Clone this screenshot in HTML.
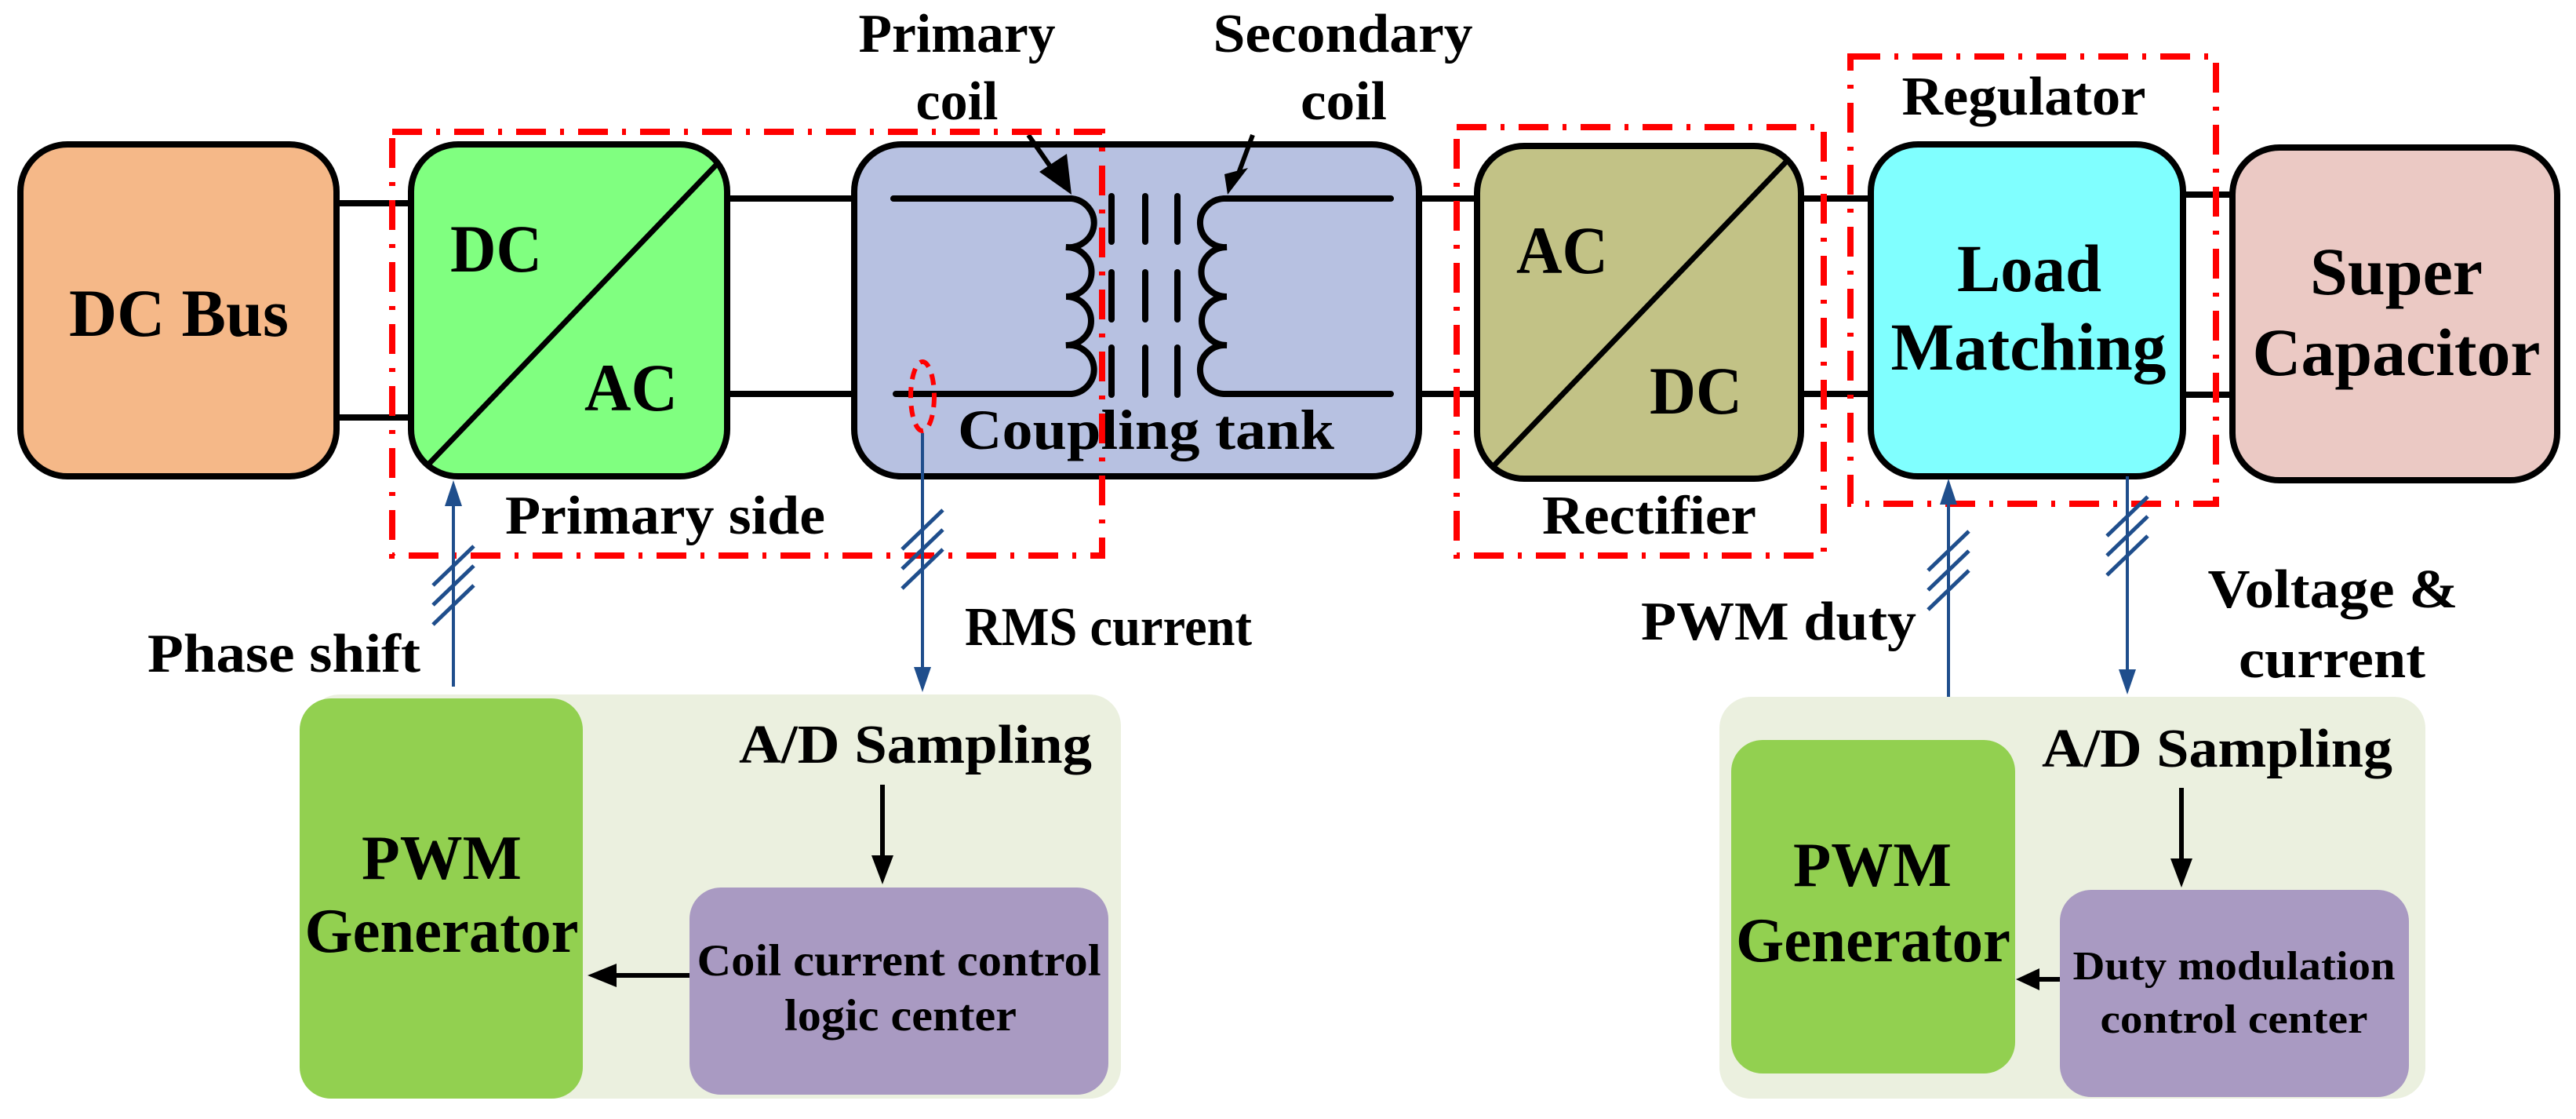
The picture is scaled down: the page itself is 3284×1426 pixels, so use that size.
<!DOCTYPE html>
<html><head><meta charset="utf-8"><style>
html,body{margin:0;padding:0;background:#fff;}
svg{display:block;}
text{font-family:"Liberation Serif","Times New Roman",serif;font-weight:bold;fill:#000;}
</style></head><body>
<svg width="3284" height="1426" viewBox="0 0 3284 1426" xmlns="http://www.w3.org/2000/svg">
<!-- connecting lines -->
<g stroke="#000" stroke-width="8">
<line x1="429" y1="259" x2="524" y2="259"/><line x1="429" y1="532" x2="524" y2="532"/>
<line x1="927" y1="253" x2="1089" y2="253"/><line x1="927" y1="502" x2="1089" y2="502"/>
<line x1="1809" y1="253" x2="1883" y2="253"/><line x1="1809" y1="502" x2="1883" y2="502"/>
<line x1="2296" y1="253" x2="2385" y2="253"/><line x1="2296" y1="502" x2="2385" y2="502"/>
<line x1="2783" y1="248" x2="2846" y2="248"/><line x1="2783" y1="503" x2="2846" y2="503"/>
</g>
<!-- main boxes -->
<g stroke="#000" stroke-width="8">
<rect x="26" y="184" width="403" height="423" rx="60" fill="#F5B888"/>
<rect x="524" y="184" width="403" height="423" rx="60" fill="#80FF80"/>
<rect x="1089" y="184" width="720" height="423" rx="60" fill="#B7C1E1"/>
<rect x="1883" y="186" width="413" height="424" rx="60" fill="#C2C286"/>
<rect x="2385" y="184" width="398" height="423" rx="60" fill="#80FFFF"/>
<rect x="2846" y="188" width="414" height="424" rx="60" fill="#EBC9C4"/>
</g>
<g stroke="#000" stroke-width="7">
<line x1="544" y1="594" x2="916" y2="207"/>
<line x1="1902" y1="596" x2="2281" y2="202"/>
</g>
<!-- transformer -->
<g stroke="#000" stroke-width="8" fill="none" stroke-linecap="round">
<path d="M1139 253 H1366 A32 31 0 0 1 1359 315 A32 31 0 0 1 1359 378 A32 31 0 0 1 1359 440 A32 31 0 0 1 1366 502 H1142"/>
<path d="M1773 253 H1560 A32 31 0 0 0 1564 315 A32 31 0 0 0 1564 378 A32 31 0 0 0 1564 440 A32 31 0 0 0 1560 502 H1773"/>
<line x1="1417" y1="250" x2="1417" y2="308"/><line x1="1417" y1="347" x2="1417" y2="407"/><line x1="1417" y1="443" x2="1417" y2="503"/>
<line x1="1460" y1="250" x2="1460" y2="308"/><line x1="1460" y1="347" x2="1460" y2="407"/><line x1="1460" y1="443" x2="1460" y2="503"/>
<line x1="1501" y1="250" x2="1501" y2="308"/><line x1="1501" y1="347" x2="1501" y2="407"/><line x1="1501" y1="443" x2="1501" y2="503"/>
</g>
<g stroke="#000" stroke-width="6">
<line x1="1311" y1="172" x2="1350" y2="228"/>
<line x1="1597" y1="172" x2="1577" y2="226"/>
</g>
<polygon points="1325,219 1366,248 1360,196" fill="#000"/>
<polygon points="1561,222 1565,248 1591,214" fill="#000"/>
<!-- red dash-dot boxes -->
<g stroke="#FF0000" stroke-width="8" fill="none" stroke-dasharray="38 18 5 18">
<rect x="500" y="168" width="905" height="540"/>
<rect x="1857" y="162" width="468" height="546"/>
<rect x="2359" y="72" width="466" height="570"/>
</g>
<ellipse cx="1176" cy="505" rx="15" ry="44" fill="none" stroke="#FF0000" stroke-width="6" stroke-dasharray="14 10"/>
<!-- blue signal lines -->
<g stroke="#1F4E8C" stroke-width="4" fill="none">
<line x1="578" y1="640" x2="578" y2="875"/>
<line x1="1176" y1="552" x2="1176" y2="850"/>
<line x1="2484" y1="640" x2="2484" y2="888"/>
<line x1="2712" y1="607" x2="2712" y2="855"/>
</g>
<g fill="#1F4E8C">
<polygon points="578,612 567,645 589,645"/>
<polygon points="1176,882 1165,850 1187,850"/>
<polygon points="2484,610 2473,643 2495,643"/>
<polygon points="2712,885 2701,853 2723,853"/>
</g>
<g stroke="#1F4E8C" stroke-width="5">
<line x1="552" y1="746" x2="604" y2="696"/><line x1="552" y1="771" x2="604" y2="721"/><line x1="552" y1="796" x2="604" y2="746"/>
<line x1="1150" y1="700" x2="1202" y2="650"/><line x1="1150" y1="725" x2="1202" y2="675"/><line x1="1150" y1="750" x2="1202" y2="700"/>
<line x1="2458" y1="727" x2="2510" y2="677"/><line x1="2458" y1="752" x2="2510" y2="702"/><line x1="2458" y1="777" x2="2510" y2="727"/>
<line x1="2686" y1="683" x2="2738" y2="633"/><line x1="2686" y1="708" x2="2738" y2="658"/><line x1="2686" y1="733" x2="2738" y2="683"/>
</g>
<!-- control containers -->
<rect x="393" y="885" width="1036" height="515" rx="40" fill="#EBF0DF"/>
<rect x="382" y="890" width="361" height="510" rx="40" fill="#92D050"/>
<rect x="879" y="1131" width="534" height="264" rx="40" fill="#A99AC2"/>
<rect x="2192" y="888" width="900" height="512" rx="40" fill="#EBF0DF"/>
<rect x="2207" y="943" width="362" height="425" rx="40" fill="#92D050"/>
<rect x="2626" y="1134" width="445" height="264" rx="40" fill="#A99AC2"/>
<g stroke="#000" stroke-width="6">
<line x1="1125" y1="1000" x2="1125" y2="1095"/>
<line x1="2781" y1="1004" x2="2781" y2="1098"/>
<line x1="879" y1="1243" x2="780" y2="1243"/>
<line x1="2626" y1="1248" x2="2595" y2="1248"/>
</g>
<g fill="#000">
<polygon points="1125,1127 1111,1090 1139,1090"/>
<polygon points="2781,1131 2767,1094 2795,1094"/>
<polygon points="749,1243 786,1228 786,1258"/>
<polygon points="2570,1248 2600,1234 2600,1262"/>
</g>
<!-- texts -->
<g text-anchor="middle">
<text x="228" y="428" font-size="86" textLength="280" lengthAdjust="spacingAndGlyphs">DC Bus</text>
<text x="1220" y="66" font-size="70" textLength="251" lengthAdjust="spacingAndGlyphs">Primary</text>
<text x="1220" y="152" font-size="70" textLength="105" lengthAdjust="spacingAndGlyphs">coil</text>
<text x="1712" y="66" font-size="70" textLength="331" lengthAdjust="spacingAndGlyphs">Secondary</text>
<text x="1713" y="152" font-size="70" textLength="110" lengthAdjust="spacingAndGlyphs">coil</text>
<text x="2580" y="146" font-size="70" textLength="311" lengthAdjust="spacingAndGlyphs">Regulator</text>
<text x="2587" y="371" font-size="86" textLength="184" lengthAdjust="spacingAndGlyphs">Load</text>
<text x="2586" y="471" font-size="86" textLength="351" lengthAdjust="spacingAndGlyphs">Matching</text>
<text x="3055" y="375" font-size="86" textLength="220" lengthAdjust="spacingAndGlyphs">Super</text>
<text x="3055" y="478" font-size="86" textLength="367" lengthAdjust="spacingAndGlyphs">Capacitor</text>
<text x="563" y="1120" font-size="80" textLength="204" lengthAdjust="spacingAndGlyphs">PWM</text>
<text x="563" y="1213" font-size="80" textLength="349" lengthAdjust="spacingAndGlyphs">Generator</text>
<text x="2387" y="1129" font-size="80" textLength="202" lengthAdjust="spacingAndGlyphs">PWM</text>
<text x="2388" y="1225" font-size="80" textLength="350" lengthAdjust="spacingAndGlyphs">Generator</text>
<text x="1146" y="1243" font-size="57" textLength="515" lengthAdjust="spacingAndGlyphs">Coil current control</text>
<text x="1148" y="1313" font-size="57" textLength="296" lengthAdjust="spacingAndGlyphs">logic center</text>
<text x="2848" y="1248" font-size="52" textLength="411" lengthAdjust="spacingAndGlyphs">Duty modulation</text>
<text x="2848" y="1316" font-size="52" textLength="341" lengthAdjust="spacingAndGlyphs">control center</text>
<text x="2974" y="774" font-size="70" textLength="319" lengthAdjust="spacingAndGlyphs">Voltage &amp;</text>
<text x="2973" y="863" font-size="70" textLength="238" lengthAdjust="spacingAndGlyphs">current</text>
</g>
<text x="574" y="346" font-size="86" textLength="117" lengthAdjust="spacingAndGlyphs">DC</text>
<text x="745" y="523" font-size="86" textLength="119" lengthAdjust="spacingAndGlyphs">AC</text>
<text x="1933" y="348" font-size="86" textLength="117" lengthAdjust="spacingAndGlyphs">AC</text>
<text x="2103" y="527" font-size="86" textLength="118" lengthAdjust="spacingAndGlyphs">DC</text>
<text x="1221" y="572" font-size="72" textLength="480" lengthAdjust="spacingAndGlyphs">Coupling tank</text>
<text x="644" y="680" font-size="70" textLength="408" lengthAdjust="spacingAndGlyphs">Primary side</text>
<text x="1966" y="680" font-size="70" textLength="273" lengthAdjust="spacingAndGlyphs">Rectifier</text>
<text x="188" y="856" font-size="70" textLength="348" lengthAdjust="spacingAndGlyphs">Phase shift</text>
<text x="1230" y="822" font-size="70" textLength="366" lengthAdjust="spacingAndGlyphs">RMS current</text>
<text x="2092" y="815" font-size="70" textLength="351" lengthAdjust="spacingAndGlyphs">PWM duty</text>
<text x="942" y="972" font-size="70" textLength="450" lengthAdjust="spacingAndGlyphs">A/D Sampling</text>
<text x="2603" y="977" font-size="70" textLength="447" lengthAdjust="spacingAndGlyphs">A/D Sampling</text>
</svg>
</body></html>
